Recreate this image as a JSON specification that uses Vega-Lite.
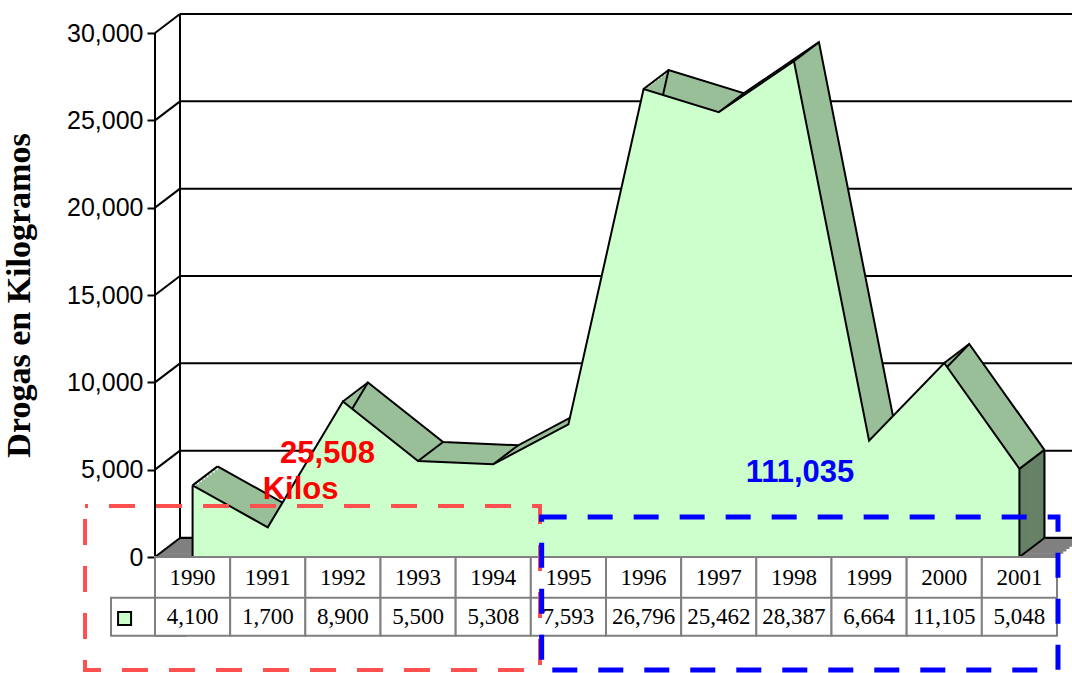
{
  "$schema": "https://vega.github.io/schema/vega-lite/v6.json",
  "autosize": {"type": "none"},
  "padding": {"left": 155, "top": 33, "right": 15, "bottom": 0},
  "width": 902,
  "height": 640,
  "background": "white",
  "config": {"view": {"stroke": null}},
  "datasets": {
    "seizures": [
      {"year": 1990, "kg": 4100},
      {"year": 1991, "kg": 1700},
      {"year": 1992, "kg": 8900},
      {"year": 1993, "kg": 5500},
      {"year": 1994, "kg": 5308},
      {"year": 1995, "kg": 7593},
      {"year": 1996, "kg": 26796},
      {"year": 1997, "kg": 25462},
      {"year": 1998, "kg": 28387},
      {"year": 1999, "kg": 6664},
      {"year": 2000, "kg": 11105},
      {"year": 2001, "kg": 5048}
    ],
    "ticks": [{"v": 0}, {"v": 5000}, {"v": 10000}, {"v": 15000}, {"v": 20000}, {"v": 25000}, {"v": 30000}],
    "one": [{}]
  },
  "resolve": {"scale": {"x": "independent"}},
  "layer": [
    {
      "layer": [
        {
          "data": {"name": "one"},
          "mark": {"type": "rule", "stroke": "#808080", "strokeWidth": 3},
          "encoding": {
            "x": {"datum": 1989.5, "type": "quantitative", "scale": {"domain": [1989.5, 2001.5], "nice": false, "zero": false}, "axis": null},
            "x2": {"datum": 2001.5},
            "y": {"datum": 0, "type": "quantitative", "scale": {"domain": [-6641, 30000], "nice": false, "zero": false},
              "axis": {
                "values": [0, 5000, 10000, 15000, 20000, 25000, 30000],
                "format": ",d", "domain": false, "grid": false,
                "ticks": true, "tickColor": "black", "tickWidth": 2, "tickSize": 8,
                "labelFont": "Liberation Sans", "labelFontSize": 25, "labelColor": "black", "labelPadding": 4,
                "title": "Drogas en Kilogramos", "titleFont": "Liberation Serif", "titleFontSize": 34,
                "titleFontWeight": "bold", "titleColor": "black",
                "titleX": -119, "titleY": 262, "titleAngle": 270, "titleBaseline": "bottom", "titleAlign": "center"
              }
            },
            "y2": {"datum": 0}
          }
        },
        {"data": {"name": "one"}, "mark": {"type": "rule", "stroke": "#808080", "strokeWidth": 3, "xOffset": 3.125, "x2Offset": 3.125, "yOffset": -2.375, "y2Offset": -2.375},
          "encoding": {"x": {"datum": 1989.5, "type": "quantitative", "scale": {"domain": [1989.5, 2001.5], "nice": false, "zero": false}, "axis": null}, "x2": {"datum": 2001.5}, "y": {"datum": 0, "type": "quantitative", "scale": {"domain": [-6641, 30000], "nice": false, "zero": false}}, "y2": {"datum": 0}}},
        {"data": {"name": "one"}, "mark": {"type": "rule", "stroke": "#808080", "strokeWidth": 3, "xOffset": 6.25, "x2Offset": 6.25, "yOffset": -4.75, "y2Offset": -4.75},
          "encoding": {"x": {"datum": 1989.5, "type": "quantitative", "scale": {"domain": [1989.5, 2001.5], "nice": false, "zero": false}, "axis": null}, "x2": {"datum": 2001.5}, "y": {"datum": 0, "type": "quantitative", "scale": {"domain": [-6641, 30000], "nice": false, "zero": false}}, "y2": {"datum": 0}}},
        {"data": {"name": "one"}, "mark": {"type": "rule", "stroke": "#808080", "strokeWidth": 3, "xOffset": 9.375, "x2Offset": 9.375, "yOffset": -7.125, "y2Offset": -7.125},
          "encoding": {"x": {"datum": 1989.5, "type": "quantitative", "scale": {"domain": [1989.5, 2001.5], "nice": false, "zero": false}, "axis": null}, "x2": {"datum": 2001.5}, "y": {"datum": 0, "type": "quantitative", "scale": {"domain": [-6641, 30000], "nice": false, "zero": false}}, "y2": {"datum": 0}}},
        {"data": {"name": "one"}, "mark": {"type": "rule", "stroke": "#808080", "strokeWidth": 3, "xOffset": 12.5, "x2Offset": 12.5, "yOffset": -9.5, "y2Offset": -9.5},
          "encoding": {"x": {"datum": 1989.5, "type": "quantitative", "scale": {"domain": [1989.5, 2001.5], "nice": false, "zero": false}, "axis": null}, "x2": {"datum": 2001.5}, "y": {"datum": 0, "type": "quantitative", "scale": {"domain": [-6641, 30000], "nice": false, "zero": false}}, "y2": {"datum": 0}}},
        {"data": {"name": "one"}, "mark": {"type": "rule", "stroke": "#808080", "strokeWidth": 3, "xOffset": 15.625, "x2Offset": 15, "yOffset": -11.875, "y2Offset": -11.875},
          "encoding": {"x": {"datum": 1989.5, "type": "quantitative", "scale": {"domain": [1989.5, 2001.5], "nice": false, "zero": false}, "axis": null}, "x2": {"datum": 2001.5}, "y": {"datum": 0, "type": "quantitative", "scale": {"domain": [-6641, 30000], "nice": false, "zero": false}}, "y2": {"datum": 0}}},
        {"data": {"name": "one"}, "mark": {"type": "rule", "stroke": "#808080", "strokeWidth": 3, "xOffset": 18.75, "x2Offset": 15, "yOffset": -14.25, "y2Offset": -14.25},
          "encoding": {"x": {"datum": 1989.5, "type": "quantitative", "scale": {"domain": [1989.5, 2001.5], "nice": false, "zero": false}, "axis": null}, "x2": {"datum": 2001.5}, "y": {"datum": 0, "type": "quantitative", "scale": {"domain": [-6641, 30000], "nice": false, "zero": false}}, "y2": {"datum": 0}}},
        {"data": {"name": "one"}, "mark": {"type": "rule", "stroke": "#808080", "strokeWidth": 3, "xOffset": 21.875, "x2Offset": 15, "yOffset": -16.625, "y2Offset": -16.625},
          "encoding": {"x": {"datum": 1989.5, "type": "quantitative", "scale": {"domain": [1989.5, 2001.5], "nice": false, "zero": false}, "axis": null}, "x2": {"datum": 2001.5}, "y": {"datum": 0, "type": "quantitative", "scale": {"domain": [-6641, 30000], "nice": false, "zero": false}}, "y2": {"datum": 0}}},
        {"data": {"name": "one"}, "mark": {"type": "rule", "stroke": "#808080", "strokeWidth": 3, "xOffset": 25, "x2Offset": 15, "yOffset": -19, "y2Offset": -19},
          "encoding": {"x": {"datum": 1989.5, "type": "quantitative", "scale": {"domain": [1989.5, 2001.5], "nice": false, "zero": false}, "axis": null}, "x2": {"datum": 2001.5}, "y": {"datum": 0, "type": "quantitative", "scale": {"domain": [-6641, 30000], "nice": false, "zero": false}}, "y2": {"datum": 0}}},
        {
          "data": {"name": "ticks"},
          "mark": {"type": "rule", "stroke": "black", "strokeWidth": 2, "xOffset": 25, "x2Offset": 15, "yOffset": -19, "y2Offset": -19},
          "encoding": {
            "x": {"datum": 1989.5, "type": "quantitative", "scale": {"domain": [1989.5, 2001.5], "nice": false, "zero": false}, "axis": null},
            "x2": {"datum": 2001.5},
            "y": {"field": "v", "type": "quantitative", "scale": {"domain": [-6641, 30000], "nice": false, "zero": false}},
            "y2": {"field": "v"}
          }
        },
        {
          "data": {"name": "ticks"},
          "mark": {"type": "rule", "stroke": "black", "strokeWidth": 2, "x2Offset": 25, "y2Offset": -19},
          "encoding": {
            "x": {"datum": 1989.5, "type": "quantitative", "scale": {"domain": [1989.5, 2001.5], "nice": false, "zero": false}, "axis": null},
            "x2": {"datum": 1989.5},
            "y": {"field": "v", "type": "quantitative", "scale": {"domain": [-6641, 30000], "nice": false, "zero": false}},
            "y2": {"field": "v"}
          }
        },
        {
          "data": {"name": "one"},
          "mark": {"type": "rule", "stroke": "black", "strokeWidth": 2, "xOffset": 25, "x2Offset": 25, "yOffset": -19, "y2Offset": -19},
          "encoding": {
            "x": {"datum": 1989.5, "type": "quantitative", "scale": {"domain": [1989.5, 2001.5], "nice": false, "zero": false}, "axis": null},
            "x2": {"datum": 1989.5},
            "y": {"datum": 0, "type": "quantitative", "scale": {"domain": [-6641, 30000], "nice": false, "zero": false}},
            "y2": {"datum": 30000}
          }
        },
        {
          "data": {"name": "one"},
          "mark": {"type": "rule", "stroke": "black", "strokeWidth": 2},
          "encoding": {
            "x": {"datum": 1989.5, "type": "quantitative", "scale": {"domain": [1989.5, 2001.5], "nice": false, "zero": false}, "axis": null},
            "x2": {"datum": 1989.5},
            "y": {"datum": 0, "type": "quantitative", "scale": {"domain": [-6641, 30000], "nice": false, "zero": false}},
            "y2": {"datum": 30000}
          }
        },
        {"data": {"name": "seizures"}, "mark": {"type": "area", "fill": "#99BF99", "xOffset": 25, "yOffset": -19, "y2Offset": -19},
          "encoding": {"x": {"field": "year", "type": "quantitative", "scale": {"domain": [1989.5, 2001.5], "nice": false, "zero": false}, "axis": null}, "y": {"field": "kg", "type": "quantitative", "scale": {"domain": [-6641, 30000], "nice": false, "zero": false}}, "y2": {"datum": 0}}},
        {"data": {"name": "seizures"}, "mark": {"type": "area", "fill": "#99BF99", "xOffset": 21.875, "yOffset": -16.625, "y2Offset": -16.625},
          "encoding": {"x": {"field": "year", "type": "quantitative", "scale": {"domain": [1989.5, 2001.5], "nice": false, "zero": false}, "axis": null}, "y": {"field": "kg", "type": "quantitative", "scale": {"domain": [-6641, 30000], "nice": false, "zero": false}}, "y2": {"datum": 0}}},
        {"data": {"name": "seizures"}, "mark": {"type": "area", "fill": "#99BF99", "xOffset": 18.75, "yOffset": -14.25, "y2Offset": -14.25},
          "encoding": {"x": {"field": "year", "type": "quantitative", "scale": {"domain": [1989.5, 2001.5], "nice": false, "zero": false}, "axis": null}, "y": {"field": "kg", "type": "quantitative", "scale": {"domain": [-6641, 30000], "nice": false, "zero": false}}, "y2": {"datum": 0}}},
        {"data": {"name": "seizures"}, "mark": {"type": "area", "fill": "#99BF99", "xOffset": 15.625, "yOffset": -11.875, "y2Offset": -11.875},
          "encoding": {"x": {"field": "year", "type": "quantitative", "scale": {"domain": [1989.5, 2001.5], "nice": false, "zero": false}, "axis": null}, "y": {"field": "kg", "type": "quantitative", "scale": {"domain": [-6641, 30000], "nice": false, "zero": false}}, "y2": {"datum": 0}}},
        {"data": {"name": "seizures"}, "mark": {"type": "area", "fill": "#99BF99", "xOffset": 12.5, "yOffset": -9.5, "y2Offset": -9.5},
          "encoding": {"x": {"field": "year", "type": "quantitative", "scale": {"domain": [1989.5, 2001.5], "nice": false, "zero": false}, "axis": null}, "y": {"field": "kg", "type": "quantitative", "scale": {"domain": [-6641, 30000], "nice": false, "zero": false}}, "y2": {"datum": 0}}},
        {"data": {"name": "seizures"}, "mark": {"type": "area", "fill": "#99BF99", "xOffset": 9.375, "yOffset": -7.125, "y2Offset": -7.125},
          "encoding": {"x": {"field": "year", "type": "quantitative", "scale": {"domain": [1989.5, 2001.5], "nice": false, "zero": false}, "axis": null}, "y": {"field": "kg", "type": "quantitative", "scale": {"domain": [-6641, 30000], "nice": false, "zero": false}}, "y2": {"datum": 0}}},
        {"data": {"name": "seizures"}, "mark": {"type": "area", "fill": "#99BF99", "xOffset": 6.25, "yOffset": -4.75, "y2Offset": -4.75},
          "encoding": {"x": {"field": "year", "type": "quantitative", "scale": {"domain": [1989.5, 2001.5], "nice": false, "zero": false}, "axis": null}, "y": {"field": "kg", "type": "quantitative", "scale": {"domain": [-6641, 30000], "nice": false, "zero": false}}, "y2": {"datum": 0}}},
        {"data": {"name": "seizures"}, "mark": {"type": "area", "fill": "#99BF99", "xOffset": 3.125, "yOffset": -2.375, "y2Offset": -2.375},
          "encoding": {"x": {"field": "year", "type": "quantitative", "scale": {"domain": [1989.5, 2001.5], "nice": false, "zero": false}, "axis": null}, "y": {"field": "kg", "type": "quantitative", "scale": {"domain": [-6641, 30000], "nice": false, "zero": false}}, "y2": {"datum": 0}}},
        {
          "data": {"name": "seizures"},
          "mark": {"type": "line", "stroke": "black", "strokeWidth": 2, "xOffset": 25, "yOffset": -19, "strokeJoin": "miter"},
          "encoding": {
            "x": {"field": "year", "type": "quantitative", "scale": {"domain": [1989.5, 2001.5], "nice": false, "zero": false}, "axis": null},
            "y": {"field": "kg", "type": "quantitative", "scale": {"domain": [-6641, 30000], "nice": false, "zero": false}}
          }
        },
        {"data": {"name": "seizures"}, "transform": [{"filter": "datum.year == 2001"}], "mark": {"type": "rule", "stroke": "#668066", "strokeWidth": 3.6},
          "encoding": {"x": {"field": "year", "type": "quantitative", "scale": {"domain": [1989.5, 2001.5], "nice": false, "zero": false}, "axis": null}, "y": {"field": "kg", "type": "quantitative", "scale": {"domain": [-6641, 30000], "nice": false, "zero": false}}, "y2": {"datum": 0}}},
        {"data": {"name": "seizures"}, "transform": [{"filter": "datum.year == 2001"}], "mark": {"type": "rule", "stroke": "#668066", "strokeWidth": 3.6, "xOffset": 3.125, "yOffset": -2.375, "y2Offset": -2.375},
          "encoding": {"x": {"field": "year", "type": "quantitative", "scale": {"domain": [1989.5, 2001.5], "nice": false, "zero": false}, "axis": null}, "y": {"field": "kg", "type": "quantitative", "scale": {"domain": [-6641, 30000], "nice": false, "zero": false}}, "y2": {"datum": 0}}},
        {"data": {"name": "seizures"}, "transform": [{"filter": "datum.year == 2001"}], "mark": {"type": "rule", "stroke": "#668066", "strokeWidth": 3.6, "xOffset": 6.25, "yOffset": -4.75, "y2Offset": -4.75},
          "encoding": {"x": {"field": "year", "type": "quantitative", "scale": {"domain": [1989.5, 2001.5], "nice": false, "zero": false}, "axis": null}, "y": {"field": "kg", "type": "quantitative", "scale": {"domain": [-6641, 30000], "nice": false, "zero": false}}, "y2": {"datum": 0}}},
        {"data": {"name": "seizures"}, "transform": [{"filter": "datum.year == 2001"}], "mark": {"type": "rule", "stroke": "#668066", "strokeWidth": 3.6, "xOffset": 9.375, "yOffset": -7.125, "y2Offset": -7.125},
          "encoding": {"x": {"field": "year", "type": "quantitative", "scale": {"domain": [1989.5, 2001.5], "nice": false, "zero": false}, "axis": null}, "y": {"field": "kg", "type": "quantitative", "scale": {"domain": [-6641, 30000], "nice": false, "zero": false}}, "y2": {"datum": 0}}},
        {"data": {"name": "seizures"}, "transform": [{"filter": "datum.year == 2001"}], "mark": {"type": "rule", "stroke": "#668066", "strokeWidth": 3.6, "xOffset": 12.5, "yOffset": -9.5, "y2Offset": -9.5},
          "encoding": {"x": {"field": "year", "type": "quantitative", "scale": {"domain": [1989.5, 2001.5], "nice": false, "zero": false}, "axis": null}, "y": {"field": "kg", "type": "quantitative", "scale": {"domain": [-6641, 30000], "nice": false, "zero": false}}, "y2": {"datum": 0}}},
        {"data": {"name": "seizures"}, "transform": [{"filter": "datum.year == 2001"}], "mark": {"type": "rule", "stroke": "#668066", "strokeWidth": 3.6, "xOffset": 15.625, "yOffset": -11.875, "y2Offset": -11.875},
          "encoding": {"x": {"field": "year", "type": "quantitative", "scale": {"domain": [1989.5, 2001.5], "nice": false, "zero": false}, "axis": null}, "y": {"field": "kg", "type": "quantitative", "scale": {"domain": [-6641, 30000], "nice": false, "zero": false}}, "y2": {"datum": 0}}},
        {"data": {"name": "seizures"}, "transform": [{"filter": "datum.year == 2001"}], "mark": {"type": "rule", "stroke": "#668066", "strokeWidth": 3.6, "xOffset": 18.75, "yOffset": -14.25, "y2Offset": -14.25},
          "encoding": {"x": {"field": "year", "type": "quantitative", "scale": {"domain": [1989.5, 2001.5], "nice": false, "zero": false}, "axis": null}, "y": {"field": "kg", "type": "quantitative", "scale": {"domain": [-6641, 30000], "nice": false, "zero": false}}, "y2": {"datum": 0}}},
        {"data": {"name": "seizures"}, "transform": [{"filter": "datum.year == 2001"}], "mark": {"type": "rule", "stroke": "#668066", "strokeWidth": 3.6, "xOffset": 21.875, "yOffset": -16.625, "y2Offset": -16.625},
          "encoding": {"x": {"field": "year", "type": "quantitative", "scale": {"domain": [1989.5, 2001.5], "nice": false, "zero": false}, "axis": null}, "y": {"field": "kg", "type": "quantitative", "scale": {"domain": [-6641, 30000], "nice": false, "zero": false}}, "y2": {"datum": 0}}},
        {"data": {"name": "seizures"}, "transform": [{"filter": "datum.year == 2001"}], "mark": {"type": "rule", "stroke": "#668066", "strokeWidth": 3.6, "xOffset": 24, "yOffset": -18.25, "y2Offset": -18.25},
          "encoding": {"x": {"field": "year", "type": "quantitative", "scale": {"domain": [1989.5, 2001.5], "nice": false, "zero": false}, "axis": null}, "y": {"field": "kg", "type": "quantitative", "scale": {"domain": [-6641, 30000], "nice": false, "zero": false}}, "y2": {"datum": 0}}},
        {
          "data": {"name": "seizures"},
          "transform": [{"filter": "datum.year == 2001"}],
          "mark": {"type": "rule", "stroke": "black", "strokeWidth": 2, "xOffset": 25, "yOffset": -19, "y2Offset": -19},
          "encoding": {
            "x": {"field": "year", "type": "quantitative", "scale": {"domain": [1989.5, 2001.5], "nice": false, "zero": false}, "axis": null},
            "y": {"field": "kg", "type": "quantitative", "scale": {"domain": [-6641, 30000], "nice": false, "zero": false}},
            "y2": {"datum": 0}
          }
        },
        {
          "data": {"name": "seizures"},
          "mark": {"type": "rule", "stroke": "black", "strokeWidth": 2, "x2Offset": 25, "y2Offset": -19},
          "encoding": {
            "x": {"field": "year", "type": "quantitative", "scale": {"domain": [1989.5, 2001.5], "nice": false, "zero": false}, "axis": null},
            "x2": {"field": "year"},
            "y": {"field": "kg", "type": "quantitative", "scale": {"domain": [-6641, 30000], "nice": false, "zero": false}},
            "y2": {"field": "kg"}
          }
        },
        {
          "data": {"name": "seizures"},
          "transform": [{"filter": "datum.year == 2001"}],
          "mark": {"type": "rule", "stroke": "black", "strokeWidth": 2, "x2Offset": 25, "y2Offset": -19},
          "encoding": {
            "x": {"field": "year", "type": "quantitative", "scale": {"domain": [1989.5, 2001.5], "nice": false, "zero": false}, "axis": null},
            "x2": {"field": "year"},
            "y": {"datum": 0, "type": "quantitative", "scale": {"domain": [-6641, 30000], "nice": false, "zero": false}},
            "y2": {"datum": 0}
          }
        },
        {
          "data": {"name": "seizures"},
          "mark": {"type": "area", "fill": "#CCFFCC"},
          "encoding": {
            "x": {"field": "year", "type": "quantitative", "scale": {"domain": [1989.5, 2001.5], "nice": false, "zero": false}, "axis": null},
            "y": {"field": "kg", "type": "quantitative", "scale": {"domain": [-6641, 30000], "nice": false, "zero": false}},
            "y2": {"datum": 0}
          }
        },
        {
          "data": {"name": "seizures"},
          "mark": {"type": "line", "stroke": "black", "strokeWidth": 2, "strokeJoin": "miter"},
          "encoding": {
            "x": {"field": "year", "type": "quantitative", "scale": {"domain": [1989.5, 2001.5], "nice": false, "zero": false}, "axis": null},
            "y": {"field": "kg", "type": "quantitative", "scale": {"domain": [-6641, 30000], "nice": false, "zero": false}}
          }
        },
        {
          "data": {"name": "seizures"},
          "transform": [{"filter": "datum.year == 1990 || datum.year == 2001"}],
          "mark": {"type": "rule", "stroke": "black", "strokeWidth": 2},
          "encoding": {
            "x": {"field": "year", "type": "quantitative", "scale": {"domain": [1989.5, 2001.5], "nice": false, "zero": false}, "axis": null},
            "y": {"field": "kg", "type": "quantitative", "scale": {"domain": [-6641, 30000], "nice": false, "zero": false}},
            "y2": {"datum": 0}
          }
        }
      ]
    },
    {
      "layer": [
        {
          "data": {"name": "seizures"},
          "transform": [{"filter": "datum.year == 1990"}],
          "mark": {"type": "rect", "fill": "white", "stroke": "#808080", "strokeWidth": 2, "xOffset": -44},
          "encoding": {
            "x": {"field": "year", "type": "ordinal", "scale": {"type": "band", "paddingInner": 0, "paddingOuter": 0}, "axis": null},
            "y": {"datum": -2330, "type": "quantitative", "scale": {"domain": [-6641, 30000], "nice": false, "zero": false}},
            "y2": {"datum": -4506}
          }
        },
        {
          "data": {"name": "seizures"},
          "mark": {"type": "rect", "fill": "white", "stroke": "#808080", "strokeWidth": 2},
          "encoding": {
            "x": {"field": "year", "type": "ordinal", "scale": {"type": "band", "paddingInner": 0, "paddingOuter": 0}, "axis": null},
            "y": {"datum": 0, "type": "quantitative", "scale": {"domain": [-6641, 30000], "nice": false, "zero": false}},
            "y2": {"datum": -4506}
          }
        },
        {
          "data": {"name": "one"},
          "mark": {"type": "rule", "stroke": "#808080", "strokeWidth": 2},
          "encoding": {
            "y": {"datum": -2330, "type": "quantitative", "scale": {"domain": [-6641, 30000], "nice": false, "zero": false}}
          }
        },
        {
          "data": {"name": "seizures"},
          "mark": {"type": "text", "font": "Liberation Serif", "fontSize": 23, "color": "black", "baseline": "middle", "align": "center"},
          "encoding": {
            "x": {"field": "year", "type": "ordinal", "scale": {"type": "band", "paddingInner": 0, "paddingOuter": 0}, "axis": null},
            "y": {"datum": -1174, "type": "quantitative", "scale": {"domain": [-6641, 30000], "nice": false, "zero": false}},
            "text": {"field": "year", "type": "ordinal"}
          }
        },
        {
          "data": {"name": "seizures"},
          "mark": {"type": "text", "font": "Liberation Serif", "fontSize": 23, "color": "black", "baseline": "middle", "align": "center"},
          "encoding": {
            "x": {"field": "year", "type": "ordinal", "scale": {"type": "band", "paddingInner": 0, "paddingOuter": 0}, "axis": null},
            "y": {"datum": -3435, "type": "quantitative", "scale": {"domain": [-6641, 30000], "nice": false, "zero": false}},
            "text": {"field": "kg", "type": "quantitative", "format": ",d"}
          }
        },
        {
          "data": {"name": "seizures"},
          "transform": [{"filter": "datum.year == 1990"}],
          "mark": {"type": "point", "shape": "square", "size": 169, "filled": true, "fill": "#CCFFCC", "stroke": "black", "strokeWidth": 2, "opacity": 1, "xOffset": -68},
          "encoding": {
            "x": {"field": "year", "type": "ordinal", "scale": {"type": "band", "paddingInner": 0, "paddingOuter": 0}, "axis": null},
            "y": {"datum": -3520, "type": "quantitative", "scale": {"domain": [-6641, 30000], "nice": false, "zero": false}}
          }
        }
      ]
    },
    {
      "layer": [
        {
          "data": {"name": "one"},
          "mark": {"type": "rect", "filled": false, "stroke": "#FF5050", "strokeWidth": 4, "strokeDash": [26, 21], "strokeDashOffset": -24},
          "encoding": {
            "x": {"datum": 1988.569, "type": "quantitative", "scale": {"domain": [1989.5, 2001.5], "nice": false, "zero": false}, "axis": null},
            "x2": {"datum": 1994.622},
            "y": {"datum": 2920, "type": "quantitative", "scale": {"domain": [-6641, 30000], "nice": false, "zero": false}},
            "y2": {"datum": -6469}
          }
        },
        {
          "data": {"name": "one"},
          "mark": {"type": "rect", "filled": false, "stroke": "#0000FF", "strokeWidth": 5, "strokeDash": [25, 21]},
          "encoding": {
            "x": {"datum": 1994.644, "type": "quantitative", "scale": {"domain": [1989.5, 2001.5], "nice": false, "zero": false}, "axis": null},
            "x2": {"datum": 2001.513},
            "y": {"datum": 2290, "type": "quantitative", "scale": {"domain": [-6641, 30000], "nice": false, "zero": false}},
            "y2": {"datum": -6469}
          }
        },
        {
          "data": {"name": "one"},
          "mark": {"type": "text", "font": "Liberation Sans", "fontWeight": "bold", "fontSize": 31, "color": "#FF0000", "align": "center", "baseline": "alphabetic"},
          "encoding": {
            "x": {"datum": 1991.795, "type": "quantitative", "scale": {"domain": [1989.5, 2001.5], "nice": false, "zero": false}, "axis": null},
            "y": {"datum": 5382, "type": "quantitative", "scale": {"domain": [-6641, 30000], "nice": false, "zero": false}},
            "text": {"value": "25,508"}
          }
        },
        {
          "data": {"name": "one"},
          "mark": {"type": "text", "font": "Liberation Sans", "fontWeight": "bold", "fontSize": 31, "color": "#FF0000", "align": "center", "baseline": "alphabetic"},
          "encoding": {
            "x": {"datum": 1991.436, "type": "quantitative", "scale": {"domain": [1989.5, 2001.5], "nice": false, "zero": false}, "axis": null},
            "y": {"datum": 3321, "type": "quantitative", "scale": {"domain": [-6641, 30000], "nice": false, "zero": false}},
            "text": {"value": "Kilos"}
          }
        },
        {
          "data": {"name": "one"},
          "mark": {"type": "text", "font": "Liberation Sans", "fontWeight": "bold", "fontSize": 31, "color": "#0000FF", "align": "center", "baseline": "alphabetic"},
          "encoding": {
            "x": {"datum": 1998.081, "type": "quantitative", "scale": {"domain": [1989.5, 2001.5], "nice": false, "zero": false}, "axis": null},
            "y": {"datum": 4294, "type": "quantitative", "scale": {"domain": [-6641, 30000], "nice": false, "zero": false}},
            "text": {"value": "111,035"}
          }
        }
      ]
    }
  ]
}
